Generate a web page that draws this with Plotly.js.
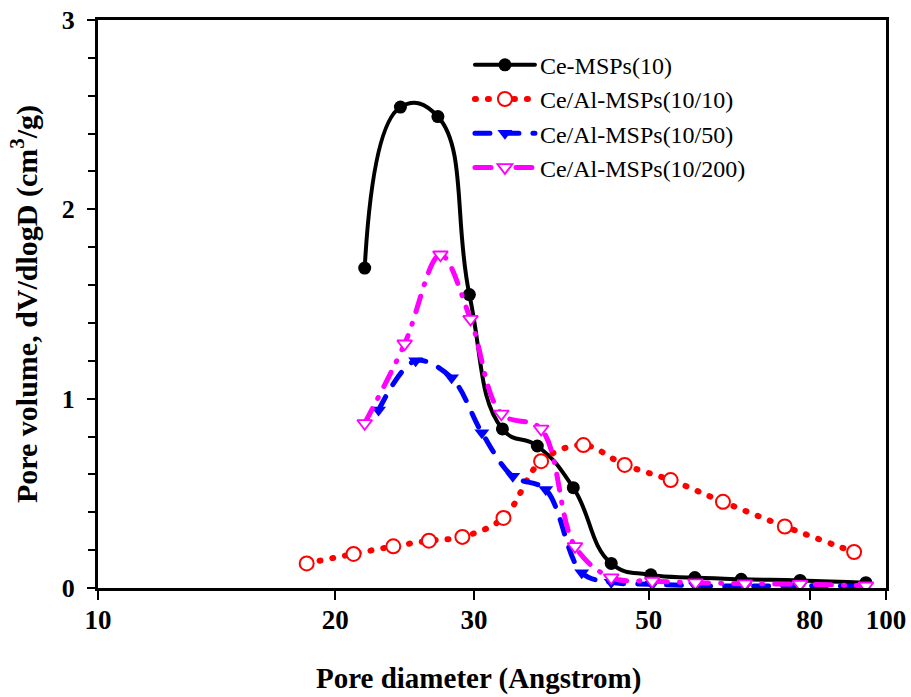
<!DOCTYPE html>
<html><head><meta charset="utf-8">
<script src="https://cdn.plot.ly/plotly-3.0.1.min.js"></script>
<style>
html,body{margin:0;padding:0;background:#fff}
#chart{width:911px;height:697px}
.js-line{stroke-linecap:round;}
</style></head><body><div id="chart"></div>
<script>
// Ce-MSPs(10)
const ceX = [21.8, 24.2, 27.0, 29.6, 32.6, 36.1, 40.1, 44.8, 50.3, 57.2, 65.5, 77.8, 94.3];
const ceY = [1.69, 2.54, 2.49, 1.55, 0.84, 0.75, 0.53, 0.13, 0.07, 0.055, 0.046, 0.04, 0.028];
// Ce/Al-MSPs(10/10)
const al10X = [18.4, 21.1, 23.7, 26.3, 29.0, 32.7, 36.5, 41.3, 46.6, 53.3, 62.1, 74.4, 91.1];
const al10Y = [0.13, 0.18, 0.22, 0.25, 0.27, 0.37, 0.67, 0.755, 0.65, 0.57, 0.455, 0.325, 0.19];
// Ce/Al-MSPs(10/50)
const al50X = [22.7, 25.3, 28.1, 30.7, 33.6, 37.0, 41.1, 44.8, 50.5, 57.3, 66.2, 77.8, 94.3];
const al50Y = [0.94, 1.20, 1.11, 0.82, 0.59, 0.52, 0.08, 0.03, 0.02, 0.012, 0.01, 0.012, 0.01];
// Ce/Al-MSPs(10/200)
const al200X = [21.8, 24.5, 27.2, 29.7, 32.5, 36.5, 40.3, 44.8, 50.5, 57.3, 66.2, 77.8, 94.3];
const al200Y = [0.87, 1.29, 1.76, 1.42, 0.92, 0.84, 0.22, 0.055, 0.037, 0.028, 0.023, 0.02, 0.012];

const names = ['Ce-MSPs(10)', 'Ce/Al-MSPs(10/10)', 'Ce/Al-MSPs(10/50)', 'Ce/Al-MSPs(10/200)'];
const xTicks = [10, 20, 30, 50, 80, 100];
const xTickText = ['10', '20', '30', '50', '80', '100'];
const yTicks = [0, 1, 2, 3];
const xTitle = '<b>Pore diameter (Angstrom)</b>';
const yTitle = '<b>Pore volume, dV/dlogD (cm<sup>3</sup>/g)</b>';

const serif = "'Liberation Serif', 'Times New Roman', serif";

const traces = [
  {x: ceX, y: ceY, name: names[0], mode: 'lines+markers',
   line: {color: '#000000', width: 4, shape: 'spline', smoothing: 1.3},
   marker: {symbol: 'circle', size: 13, color: '#000000'}},
  {x: al10X, y: al10Y, name: names[1], mode: 'lines+markers',
   line: {color: '#ff0000', width: 6, shape: 'spline', smoothing: 1, dash: '1px,12px'},
   marker: {symbol: 'circle', size: 14, color: '#ffffff', line: {width: 2, color: '#ff0000'}}},
  {x: al50X, y: al50Y, name: names[2], mode: 'lines+markers',
   line: {color: '#0000ff', width: 5, shape: 'spline', smoothing: 1, dash: '15px,14px'},
   marker: {symbol: 'triangle-down', size: 13, color: '#0000ff'}},
  {x: al200X, y: al200Y, name: names[3], mode: 'lines+markers',
   line: {color: '#ff00ff', width: 5, shape: 'spline', smoothing: 1, dash: '16px,12px,1px,12px'},
   marker: {symbol: 'triangle-down', size: 13, color: '#ffffff', line: {width: 1.8, color: '#ff00ff'}}}
];

const layout = {
  width: 911, height: 697,
  paper_bgcolor: '#ffffff', plot_bgcolor: '#ffffff',
  margin: {l: 98, r: 25, t: 20, b: 109},
  font: {family: serif, color: '#000000'},
  showlegend: true,
  legend: {x: 0.472, y: 0.96, xanchor: 'left', yanchor: 'top',
           font: {family: serif, size: 24, color: '#000000'},
           bgcolor: 'rgba(0,0,0,0)', itemwidth: 60, tracegroupgap: 0},
  xaxis: {
    type: 'log', range: [1, 2],
    tickvals: xTicks, ticktext: xTickText,
    ticks: 'outside', ticklen: 9, tickwidth: 2, tickcolor: '#000',
    ticklabelstandoff: -3,
    tickfont: {family: serif, size: 27, color: '#000', weight: 'bold'},
    showline: true, linewidth: 3, linecolor: '#000', mirror: true,
    showgrid: false, zeroline: false
  },
  yaxis: {
    range: [0, 3], tickvals: yTicks,
    ticks: 'outside', ticklen: 8, tickwidth: 2, tickcolor: '#000',
    ticklabelstandoff: 7,
    minor: {dtick: 0.2, ticks: 'outside', ticklen: 7, tickwidth: 2, tickcolor: '#000'},
    tickfont: {family: serif, size: 26, color: '#000', weight: 'bold'},
    showline: true, linewidth: 3, linecolor: '#000', mirror: true,
    showgrid: false, zeroline: false,
    title: {text: yTitle, font: {family: serif, size: 30, color: '#000'}, standoff: 16}
  },
  annotations: [
    {text: xTitle, xref: 'paper', yref: 'paper', x: 0.4835, y: -0.16,
     xanchor: 'center', yanchor: 'middle', showarrow: false,
     font: {family: serif, size: 29, color: '#000'}}
  ]
};

Plotly.newPlot('chart', traces, layout, {displayModeBar: false, staticPlot: true});
</script></body></html>
